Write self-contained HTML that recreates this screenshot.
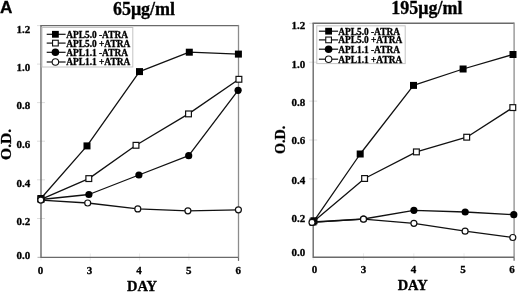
<!DOCTYPE html>
<html><head><meta charset="utf-8"><style>
html,body{margin:0;padding:0;background:#fff;}
body{width:520px;height:292px;overflow:hidden;}
svg{display:block;filter:blur(0.35px);}
text{stroke:#000;stroke-width:0.3px;}
</style></head><body>
<svg width="520" height="292" viewBox="0 0 520 292">
<rect width="520" height="292" fill="#fff"/>
<line x1="37" y1="25.6" x2="45" y2="25.6" stroke="#dedede" stroke-width="1"/>
<line x1="37" y1="64.1" x2="45" y2="64.1" stroke="#dedede" stroke-width="1"/>
<line x1="37" y1="102.6" x2="45" y2="102.6" stroke="#dedede" stroke-width="1"/>
<line x1="37" y1="141.2" x2="45" y2="141.2" stroke="#dedede" stroke-width="1"/>
<line x1="37" y1="179.8" x2="45" y2="179.8" stroke="#dedede" stroke-width="1"/>
<line x1="37" y1="218.5" x2="45" y2="218.5" stroke="#dedede" stroke-width="1"/>
<line x1="41" y1="253.4" x2="41" y2="260.4" stroke="#ececec" stroke-width="1"/>
<line x1="90.3" y1="253.4" x2="90.3" y2="260.4" stroke="#ececec" stroke-width="1"/>
<line x1="139.6" y1="253.4" x2="139.6" y2="260.4" stroke="#ececec" stroke-width="1"/>
<line x1="188.9" y1="253.4" x2="188.9" y2="260.4" stroke="#ececec" stroke-width="1"/>
<line x1="238.7" y1="253.4" x2="238.7" y2="260.4" stroke="#ececec" stroke-width="1"/>
<line x1="238.5" y1="257.4" x2="238.5" y2="260.9" stroke="#6a6a6a" stroke-width="1.2"/>
<line x1="37.5" y1="257.4" x2="41" y2="257.4" stroke="#bbb" stroke-width="1.2"/>
<path d="M40.3 25.6 H238.5" fill="none" stroke="#6a6a6a" stroke-width="1.4"/>
<path d="M238.5 24.9 V257.4" fill="none" stroke="#8c8c8c" stroke-width="1.3"/>
<path d="M41 25.6 V257.4 H238.5" fill="none" stroke="#6a6a6a" stroke-width="1.4"/>
<rect x="42" y="27.5" width="90.8" height="39.5" fill="#fff" stroke="#c4c4c4" stroke-width="1"/>
<line x1="46.7" y1="34.3" x2="65.6" y2="34.3" stroke="#111" stroke-width="1.2"/>
<rect x="52" y="30.9" width="6.8" height="6.8" fill="#000"/>
<text x="66.2" y="37.78" font-family="'Liberation Serif', serif" font-size="9.4" font-weight="bold" text-anchor="start" >APL5.0 -ATRA</text>
<line x1="46.7" y1="43.1" x2="65.6" y2="43.1" stroke="#111" stroke-width="1.2"/>
<rect x="52.55" y="40.25" width="5.7" height="5.7" fill="#fff" stroke="#111" stroke-width="1.1"/>
<text x="66.2" y="46.58" font-family="'Liberation Serif', serif" font-size="9.4" font-weight="bold" text-anchor="start" >APL5.0 +ATRA</text>
<line x1="46.7" y1="52.3" x2="65.6" y2="52.3" stroke="#111" stroke-width="1.2"/>
<circle cx="55.4" cy="52.3" r="3.8" fill="#000"/>
<text x="66.2" y="55.78" font-family="'Liberation Serif', serif" font-size="9.4" font-weight="bold" text-anchor="start" >APL1.1 -ATRA</text>
<line x1="46.7" y1="62" x2="65.6" y2="62" stroke="#111" stroke-width="1.2"/>
<circle cx="55.4" cy="62" r="3.25" fill="#fff" stroke="#111" stroke-width="1.1"/>
<text x="66.2" y="65.48" font-family="'Liberation Serif', serif" font-size="9.4" font-weight="bold" text-anchor="start" >APL1.1 +ATRA</text>
<path d="M40.9 198.5 L87 145.9 L139.5 71.6 L189.3 52.2 L238.4 54.1" fill="none" stroke="#111" stroke-width="1.3" stroke-linejoin="round"/>
<rect x="37.4" y="195" width="7" height="7" fill="#000"/>
<rect x="83.5" y="142.4" width="7" height="7" fill="#000"/>
<rect x="136" y="68.1" width="7" height="7" fill="#000"/>
<rect x="185.8" y="48.7" width="7" height="7" fill="#000"/>
<rect x="234.9" y="50.6" width="7" height="7" fill="#000"/>
<path d="M41 199.3 L88.8 178.6 L136 145.3 L188.5 113.9 L238.9 79.3" fill="none" stroke="#111" stroke-width="1.3" stroke-linejoin="round"/>
<rect x="38.1" y="196.4" width="5.8" height="5.8" fill="#fff" stroke="#111" stroke-width="1.2"/>
<rect x="85.9" y="175.7" width="5.8" height="5.8" fill="#fff" stroke="#111" stroke-width="1.2"/>
<rect x="133.1" y="142.4" width="5.8" height="5.8" fill="#fff" stroke="#111" stroke-width="1.2"/>
<rect x="185.6" y="111" width="5.8" height="5.8" fill="#fff" stroke="#111" stroke-width="1.2"/>
<rect x="236" y="76.4" width="5.8" height="5.8" fill="#fff" stroke="#111" stroke-width="1.2"/>
<path d="M41 199.5 L88.9 194.5 L138.9 175 L188.7 155.7 L238.1 90.3" fill="none" stroke="#111" stroke-width="1.3" stroke-linejoin="round"/>
<circle cx="41" cy="199.5" r="3.6" fill="#000"/>
<circle cx="88.9" cy="194.5" r="3.6" fill="#000"/>
<circle cx="138.9" cy="175" r="3.6" fill="#000"/>
<circle cx="188.7" cy="155.7" r="3.6" fill="#000"/>
<circle cx="238.1" cy="90.3" r="3.6" fill="#000"/>
<path d="M40.8 200.1 L87.7 203 L137.8 208.9 L187.9 210.8 L238.4 209.8" fill="none" stroke="#111" stroke-width="1.3" stroke-linejoin="round"/>
<circle cx="40.8" cy="200.1" r="3" fill="#fff" stroke="#111" stroke-width="1.2"/>
<circle cx="87.7" cy="203" r="3" fill="#fff" stroke="#111" stroke-width="1.2"/>
<circle cx="137.8" cy="208.9" r="3" fill="#fff" stroke="#111" stroke-width="1.2"/>
<circle cx="187.9" cy="210.8" r="3" fill="#fff" stroke="#111" stroke-width="1.2"/>
<circle cx="238.4" cy="209.8" r="3" fill="#fff" stroke="#111" stroke-width="1.2"/>
<text x="30.2" y="32.5" font-family="'Liberation Serif', serif" font-size="11" font-weight="bold" text-anchor="end" >1.2</text>
<text x="30.2" y="71" font-family="'Liberation Serif', serif" font-size="11" font-weight="bold" text-anchor="end" >1.0</text>
<text x="30.2" y="109.4" font-family="'Liberation Serif', serif" font-size="11" font-weight="bold" text-anchor="end" >0.8</text>
<text x="30.2" y="148" font-family="'Liberation Serif', serif" font-size="11" font-weight="bold" text-anchor="end" >0.6</text>
<text x="30.2" y="186.6" font-family="'Liberation Serif', serif" font-size="11" font-weight="bold" text-anchor="end" >0.4</text>
<text x="30.2" y="225.1" font-family="'Liberation Serif', serif" font-size="11" font-weight="bold" text-anchor="end" >0.2</text>
<text x="30.2" y="259.3" font-family="'Liberation Serif', serif" font-size="11" font-weight="bold" text-anchor="end" >0.0</text>
<text x="40.5" y="274.3" font-family="'Liberation Serif', serif" font-size="11" font-weight="bold" text-anchor="middle" >0</text>
<text x="89.6" y="274.3" font-family="'Liberation Serif', serif" font-size="11" font-weight="bold" text-anchor="middle" >3</text>
<text x="138.9" y="274.3" font-family="'Liberation Serif', serif" font-size="11" font-weight="bold" text-anchor="middle" >4</text>
<text x="188.7" y="274.3" font-family="'Liberation Serif', serif" font-size="11" font-weight="bold" text-anchor="middle" >5</text>
<text x="238.2" y="274.3" font-family="'Liberation Serif', serif" font-size="11" font-weight="bold" text-anchor="middle" >6</text>
<text x="142" y="290.75" font-family="'Liberation Serif', serif" font-size="14.5" font-weight="bold" text-anchor="middle" >DAY</text>
<text transform="translate(10.68 144.4) rotate(-90)" x="0" y="0" font-family="'Liberation Serif', serif" font-size="15.5" font-weight="bold" text-anchor="middle">O.D.</text>
<text x="144" y="15" font-family="'Liberation Serif', serif" font-size="18" font-weight="bold" text-anchor="middle" >65&#956;g/ml</text>
<line x1="309.2" y1="23.3" x2="317.2" y2="23.3" stroke="#dedede" stroke-width="1"/>
<line x1="309.2" y1="62.2" x2="317.2" y2="62.2" stroke="#dedede" stroke-width="1"/>
<line x1="309.2" y1="101.1" x2="317.2" y2="101.1" stroke="#dedede" stroke-width="1"/>
<line x1="309.2" y1="140" x2="317.2" y2="140" stroke="#dedede" stroke-width="1"/>
<line x1="309.2" y1="178.9" x2="317.2" y2="178.9" stroke="#dedede" stroke-width="1"/>
<line x1="309.2" y1="217.9" x2="317.2" y2="217.9" stroke="#dedede" stroke-width="1"/>
<line x1="313.2" y1="253.3" x2="313.2" y2="260.3" stroke="#ececec" stroke-width="1"/>
<line x1="363.5" y1="253.3" x2="363.5" y2="260.3" stroke="#ececec" stroke-width="1"/>
<line x1="413.8" y1="253.3" x2="413.8" y2="260.3" stroke="#ececec" stroke-width="1"/>
<line x1="464" y1="253.3" x2="464" y2="260.3" stroke="#ececec" stroke-width="1"/>
<line x1="514.3" y1="253.3" x2="514.3" y2="260.3" stroke="#ececec" stroke-width="1"/>
<line x1="514.1" y1="257.3" x2="514.1" y2="260.8" stroke="#6a6a6a" stroke-width="1.2"/>
<path d="M312.5 23.3 H514.1" fill="none" stroke="#6a6a6a" stroke-width="1.4"/>
<path d="M514.1 22.6 V257.3" fill="none" stroke="#8c8c8c" stroke-width="1.3"/>
<path d="M313.2 23.3 V257.3 H514.1" fill="none" stroke="#6a6a6a" stroke-width="1.4"/>
<rect x="316.8" y="25.8" width="88.4" height="37.8" fill="#fff" stroke="#c4c4c4" stroke-width="1"/>
<line x1="318.9" y1="31.2" x2="338.1" y2="31.2" stroke="#111" stroke-width="1.2"/>
<rect x="325.2" y="27.8" width="6.8" height="6.8" fill="#000"/>
<text x="338.2" y="34.68" font-family="'Liberation Serif', serif" font-size="9.4" font-weight="bold" text-anchor="start" >APL5.0 -ATRA</text>
<line x1="318.9" y1="39.9" x2="338.1" y2="39.9" stroke="#111" stroke-width="1.2"/>
<rect x="325.75" y="37.05" width="5.7" height="5.7" fill="#fff" stroke="#111" stroke-width="1.1"/>
<text x="338.2" y="43.38" font-family="'Liberation Serif', serif" font-size="9.4" font-weight="bold" text-anchor="start" >APL5.0 +ATRA</text>
<line x1="318.9" y1="49.2" x2="338.1" y2="49.2" stroke="#111" stroke-width="1.2"/>
<circle cx="328.6" cy="49.2" r="3.8" fill="#000"/>
<text x="338.2" y="52.68" font-family="'Liberation Serif', serif" font-size="9.4" font-weight="bold" text-anchor="start" >APL1.1 -ATRA</text>
<line x1="318.9" y1="59.2" x2="338.1" y2="59.2" stroke="#111" stroke-width="1.2"/>
<circle cx="328.6" cy="59.2" r="3.25" fill="#fff" stroke="#111" stroke-width="1.1"/>
<text x="338.2" y="62.68" font-family="'Liberation Serif', serif" font-size="9.4" font-weight="bold" text-anchor="start" >APL1.1 +ATRA</text>
<path d="M314 220.8 L360.2 154 L413.5 85.4 L463.1 69 L513 54.5" fill="none" stroke="#111" stroke-width="1.3" stroke-linejoin="round"/>
<rect x="310.5" y="217.3" width="7" height="7" fill="#000"/>
<rect x="356.7" y="150.5" width="7" height="7" fill="#000"/>
<rect x="410" y="81.9" width="7" height="7" fill="#000"/>
<rect x="459.6" y="65.5" width="7" height="7" fill="#000"/>
<rect x="509.5" y="51" width="7" height="7" fill="#000"/>
<path d="M313 222 L364.6 178.5 L416.4 151.9 L466.7 137.2 L512.8 107.6" fill="none" stroke="#111" stroke-width="1.3" stroke-linejoin="round"/>
<rect x="310.1" y="219.1" width="5.8" height="5.8" fill="#fff" stroke="#111" stroke-width="1.2"/>
<rect x="361.7" y="175.6" width="5.8" height="5.8" fill="#fff" stroke="#111" stroke-width="1.2"/>
<rect x="413.5" y="149" width="5.8" height="5.8" fill="#fff" stroke="#111" stroke-width="1.2"/>
<rect x="463.8" y="134.3" width="5.8" height="5.8" fill="#fff" stroke="#111" stroke-width="1.2"/>
<rect x="509.9" y="104.7" width="5.8" height="5.8" fill="#fff" stroke="#111" stroke-width="1.2"/>
<path d="M313 222 L363.5 219 L413.9 210.3 L465.2 212 L513.8 214.7" fill="none" stroke="#111" stroke-width="1.3" stroke-linejoin="round"/>
<circle cx="313" cy="222" r="3.6" fill="#000"/>
<circle cx="363.5" cy="219" r="3.6" fill="#000"/>
<circle cx="413.9" cy="210.3" r="3.6" fill="#000"/>
<circle cx="465.2" cy="212" r="3.6" fill="#000"/>
<circle cx="513.8" cy="214.7" r="3.6" fill="#000"/>
<path d="M312 222.4 L363.5 219.2 L413.9 223.3 L465.1 231.2 L512.8 237.5" fill="none" stroke="#111" stroke-width="1.3" stroke-linejoin="round"/>
<circle cx="312" cy="222.4" r="3" fill="#fff" stroke="#111" stroke-width="1.2"/>
<circle cx="363.5" cy="219.2" r="3" fill="#fff" stroke="#111" stroke-width="1.2"/>
<circle cx="413.9" cy="223.3" r="3" fill="#fff" stroke="#111" stroke-width="1.2"/>
<circle cx="465.1" cy="231.2" r="3" fill="#fff" stroke="#111" stroke-width="1.2"/>
<circle cx="512.8" cy="237.5" r="3" fill="#fff" stroke="#111" stroke-width="1.2"/>
<text x="305.3" y="29" font-family="'Liberation Serif', serif" font-size="11" font-weight="bold" text-anchor="end" >1.2</text>
<text x="305.3" y="67.6" font-family="'Liberation Serif', serif" font-size="11" font-weight="bold" text-anchor="end" >1.0</text>
<text x="305.3" y="106.3" font-family="'Liberation Serif', serif" font-size="11" font-weight="bold" text-anchor="end" >0.8</text>
<text x="305.3" y="144.3" font-family="'Liberation Serif', serif" font-size="11" font-weight="bold" text-anchor="end" >0.6</text>
<text x="305.3" y="183.6" font-family="'Liberation Serif', serif" font-size="11" font-weight="bold" text-anchor="end" >0.4</text>
<text x="305.3" y="221.9" font-family="'Liberation Serif', serif" font-size="11" font-weight="bold" text-anchor="end" >0.2</text>
<text x="305.3" y="256.1" font-family="'Liberation Serif', serif" font-size="11" font-weight="bold" text-anchor="end" >0.0</text>
<text x="314.5" y="272.7" font-family="'Liberation Serif', serif" font-size="11" font-weight="bold" text-anchor="middle" >0</text>
<text x="363.6" y="272.7" font-family="'Liberation Serif', serif" font-size="11" font-weight="bold" text-anchor="middle" >3</text>
<text x="413.6" y="272.7" font-family="'Liberation Serif', serif" font-size="11" font-weight="bold" text-anchor="middle" >4</text>
<text x="463.1" y="272.7" font-family="'Liberation Serif', serif" font-size="11" font-weight="bold" text-anchor="middle" >5</text>
<text x="511.9" y="272.7" font-family="'Liberation Serif', serif" font-size="11" font-weight="bold" text-anchor="middle" >6</text>
<text x="412.7" y="290.35" font-family="'Liberation Serif', serif" font-size="14.5" font-weight="bold" text-anchor="middle" >DAY</text>
<text transform="translate(284.65 139.8) rotate(-90)" x="0" y="0" font-family="'Liberation Serif', serif" font-size="14.2" font-weight="bold" text-anchor="middle">O.D.</text>
<text x="426.8" y="13.8" font-family="'Liberation Serif', serif" font-size="18" font-weight="bold" text-anchor="middle" >195&#956;g/ml</text>
<text x="0.1" y="13.2" font-family="'Liberation Sans', sans-serif" font-size="17.2" font-weight="bold">A</text>
</svg>
</body></html>
